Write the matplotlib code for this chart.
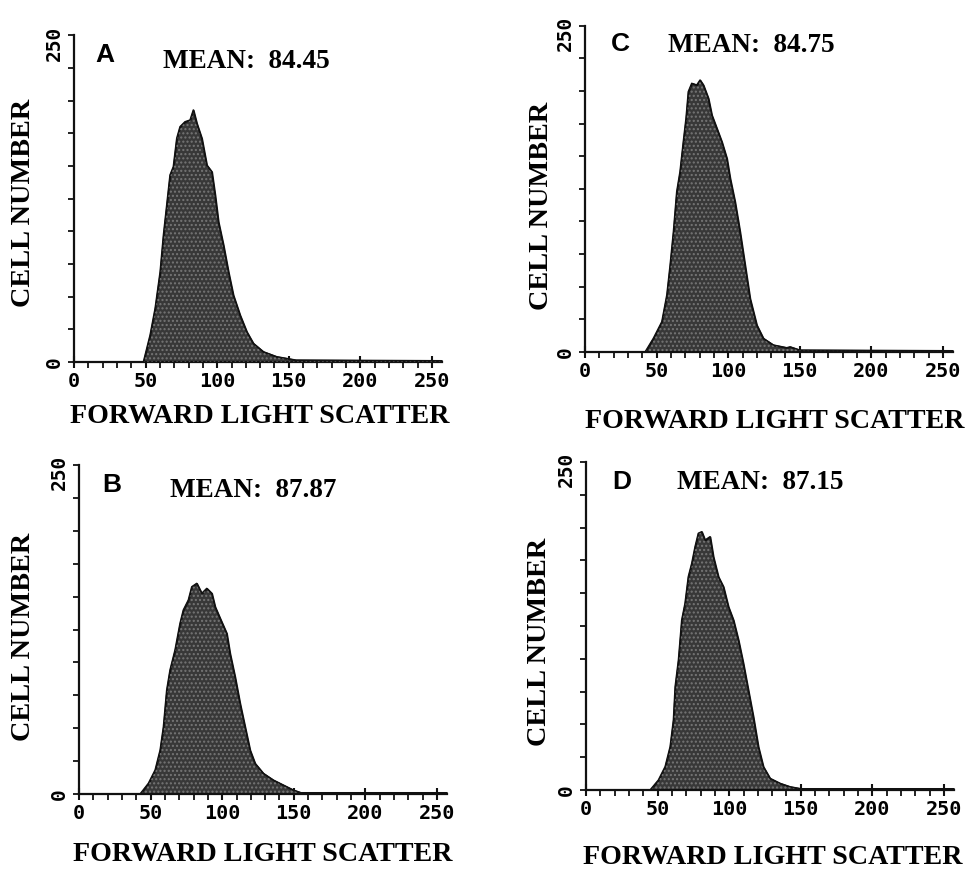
import matplotlib
matplotlib.use("Agg")
import matplotlib.pyplot as plt
from matplotlib.ticker import MultipleLocator
from matplotlib.transforms import ScaledTranslation

# ---------------- data ----------------
panel_letters = ["A", "C", "B", "D"]
panel_means = ["84.45", "84.75", "87.87", "87.15"]

x_ticks = [0, 50, 100, 150, 200, 250]
x_tick_labels = ["0", "50", "100", "150", "200", "250"]
y_tick_labels = ["0", "250"]

A_channel = [0, 48.4, 53.1, 56.6, 60.1, 62.4, 64.7, 67.0, 69.3, 71.7, 74.0, 77.5, 81.0,
             83.3, 85.7, 89.2, 92.7, 96.2, 98.5, 100.8, 104.3, 107.8, 111.2, 115.9,
             120.6, 125.2, 132.2, 141.5, 155, 257]
A_count = [0, 0, 20.7, 41.1, 69.1, 97.2, 120.2, 143.2, 149.5, 171.3, 180.2, 184, 185.3,
           193, 182.8, 171.3, 150.8, 145.7, 127.9, 107.4, 89.6, 69.1, 51.3, 36,
           23.2, 14.3, 7.9, 4.1, 1.5, 1]

C_channel = [0, 41.9, 47.7, 53.6, 57.1, 59.4, 61.7, 64.0, 66.3, 68.6, 70.5, 72.1, 74.5,
             78.0, 80.3, 82.6, 86.1, 88.5, 92.0, 95.5, 99.0, 101.3, 104.7, 108.2,
             111.7, 115.2, 119.9, 124.5, 131.5, 140.9, 143.2, 150, 257]
C_count = [0, 0, 10.5, 23.2, 43.7, 66.7, 92.2, 122.8, 138.2, 161.1, 179.1, 199.5, 205.9,
           204.6, 208.4, 204.6, 194.4, 181.6, 171.4, 161.1, 148.4, 133.1, 115.2, 92.2,
           66.7, 41.1, 20.7, 10.5, 5.4, 3.3, 4, 1.5, 1]

B_channel = [0, 42.6, 48.4, 53.1, 56.6, 58.9, 61.2, 63.5, 67.0, 70.5, 72.8, 76.3, 78.7,
             82.2, 85.7, 89.2, 92.7, 95.0, 98.5, 103.1, 105.4, 108.9, 112.4, 115.9,
             119.4, 122.9, 128.7, 135.7, 142.7, 149.7, 155, 257]
B_count = [0, 0, 8.1, 18.2, 33.4, 51.1, 79, 94.2, 109.4, 129.7, 139.8, 147.4, 157.5,
           160.1, 152.5, 156.3, 152.5, 142.3, 133.5, 122.1, 106.9, 89.1, 68.9, 51.1,
           33.4, 23.3, 15.7, 10.6, 6.8, 3, 1, 1]

D_channel = [0, 44.7, 50.5, 55.2, 58.7, 61.0, 62.2, 64.5, 66.8, 69.1, 71.4, 73.8, 76.1,
             78.4, 80.8, 83.1, 86.6, 88.9, 92.4, 95.9, 99.4, 102.9, 106.4, 109.8,
             113.3, 116.8, 120.3, 123.8, 128.5, 135.5, 142.5, 150, 257]
D_count = [0, 0, 7.6, 17.8, 33, 53.4, 78.7, 99.1, 129.6, 142.3, 162.6, 172.8, 185.4,
           195.7, 196.9, 190.5, 193.1, 177.8, 162.6, 155, 139.7, 129.6, 114.3, 96.6,
           76.2, 55.9, 33, 17.8, 8.9, 5.1, 2.5, 1, 1]

channels = [A_channel, C_channel, B_channel, D_channel]
counts = [A_count, C_count, B_count, D_count]

# ---------------- layout ----------------
W, H = 974, 872
fig = plt.figure(figsize=(W / 100, H / 100), dpi=100)
fig.patch.set_facecolor("white")

def fx(px):
    return px / W

def fy(py):
    return 1 - py / H

# axes boxes in pixels: (x at 0, x at 257, y at 0, y at 250)
boxes = [(74, 442, 362, 35.5), (585, 953, 352, 25.7),
         (79, 447, 794, 465), (586, 954, 790, 462)]
letter_pos = [(105, 55), (620, 44), (112, 485), (622, 482)]
mean_pos = [(163, 62), (668, 46), (170, 490), (677, 482)]
ylab_pos = [(24, 203), (542, 206), (24, 637), (540, 642)]
xlab_pos = [(260, 416), (775, 421), (263, 854), (773, 857)]

serif = "Liberation Serif"
mono = "DejaVu Sans Mono"

for i in range(4):
    x0, x1, yb, yt = boxes[i]
    ax = fig.add_axes([fx(x0), fy(yb), fx(x1) - fx(x0), fy(yt) - fy(yb)])
    ax.set_xlim(0, 257)
    ax.set_ylim(0, 250)
    ax.set_facecolor("none")

    ax.fill_between(channels[i], counts[i], 0, facecolor="#383838",
                    edgecolor="#111111", linewidth=1.2, zorder=2)
    ax.fill_between(channels[i], counts[i], 0, facecolor="none",
                    edgecolor="#767676", hatch="....", linewidth=0, zorder=3)
    ax.plot(channels[i], counts[i], color="#111111", lw=1.0, zorder=4)

    for s in ["top", "right"]:
        ax.spines[s].set_visible(False)
    for s in ["left", "bottom"]:
        ax.spines[s].set_linewidth(1.6)
        ax.spines[s].set_color("#111111")

    ax.set_xticks(x_ticks)
    ax.set_xticklabels(x_tick_labels, fontfamily=mono, fontweight="bold",
                       fontsize=14.5)
    ax.xaxis.set_minor_locator(MultipleLocator(10))
    ax.tick_params(axis="x", which="major", direction="inout", length=9,
                   width=1.5, pad=3, color="#111111")
    ax.tick_params(axis="x", which="minor", direction="out", length=4,
                   width=1.3, color="#111111")

    ax.set_yticks(list(range(0, 251, 25)))
    ylabels = [""] * 11
    ylabels[0] = y_tick_labels[0]
    ylabels[-1] = y_tick_labels[1]
    ax.set_yticklabels(ylabels, fontfamily=mono, fontweight="bold",
                       fontsize=14, rotation=90, va="center")
    ax.tick_params(axis="y", which="major", direction="out", length=4,
                   width=1.3, pad=3, color="#111111")
    top_lab = ax.get_yticklabels()[-1]
    top_lab.set_transform(top_lab.get_transform() +
                          ScaledTranslation(0, -7.5 / 100, fig.dpi_scale_trans))

    fig.text(fx(letter_pos[i][0]), fy(letter_pos[i][1]), panel_letters[i],
             fontfamily="Liberation Sans", fontweight="bold", fontsize=19,
             ha="center", va="center")
    fig.text(fx(mean_pos[i][0]), fy(mean_pos[i][1]), "MEAN:  " + panel_means[i],
             fontfamily=serif, fontweight="bold", fontsize=19.5,
             ha="left", va="center")
    fig.text(fx(ylab_pos[i][0]), fy(ylab_pos[i][1]), "CELL NUMBER",
             fontfamily=serif, fontweight="bold", fontsize=20.3,
             rotation=90, ha="center", va="center")
    fig.text(fx(xlab_pos[i][0]), fy(xlab_pos[i][1]), "FORWARD LIGHT SCATTER",
             fontfamily=serif, fontweight="bold", fontsize=20.2,
             ha="center", va="center")

fig.savefig("out.png", dpi=100, facecolor="white")
